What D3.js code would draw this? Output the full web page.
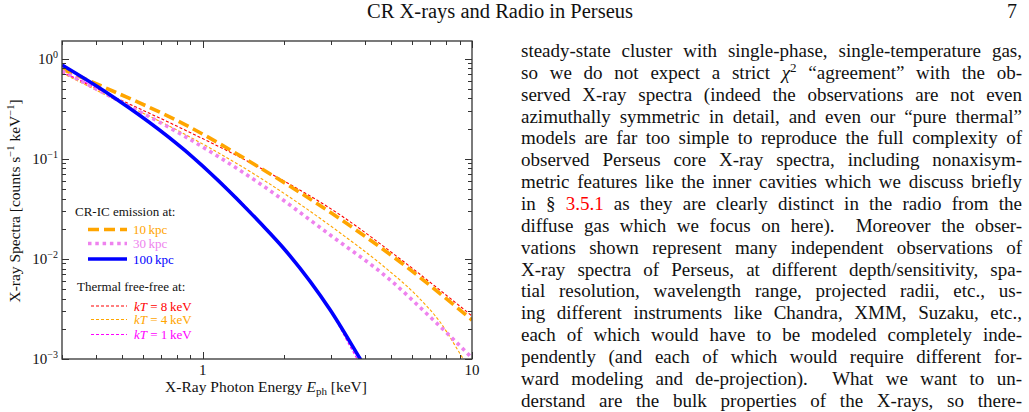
<!DOCTYPE html>
<html>
<head>
<meta charset="utf-8">
<script src="https://cdnjs.cloudflare.com/ajax/libs/d3/7.8.5/d3.min.js"></script>
<style>
  body { margin: 0; background: #fff; }
  svg { display: block; }
  text { font-family: "Liberation Serif", "DejaVu Serif", serif; fill: #111; }
</style>
</head>
<body>
<svg id="page" width="1029" height="412"></svg>
<script>
// photon energy [keV] and spectra [counts s^-1 keV^-1]
const ic10Energy = [0.3, 0.436, 0.863, 1.636, 3.24, 5.41, 10];
const ic10Flux = [0.789, 0.51, 0.218, 0.0809, 0.025, 0.0093, 0.00245];

const ic30Energy = [0.3, 0.436, 0.827, 1.636, 2.975, 4.97, 6.99, 9.67, 10];
const ic30Flux = [0.754, 0.444, 0.177, 0.056, 0.0173, 0.00615, 0.00263, 0.00112, 0.00102];

const ic100Energy = [0.3, 0.436, 0.863, 1.636, 1.992, 2.975, 3.845, 4.0];
const ic100Flux = [0.865, 0.465, 0.1197, 0.0228, 0.01285, 0.00308, 0.001, 0.00084];

const ff8Energy = [0.3, 0.436, 0.827, 1.636, 3.24, 5.41, 10];
const ff8Flux = [0.736, 0.454, 0.2032, 0.0809, 0.02745, 0.00998, 0.00269];

const ff4Energy = [0.3, 0.436, 0.827, 1.636, 3.24, 4.68, 6.25, 7.61, 9.18, 9.4];
const ff4Flux = [0.72, 0.434, 0.1852, 0.0643, 0.01814, 0.00849, 0.00426, 0.00234, 0.00105, 0.00095];

const ff1Energy = [0.3, 0.436, 0.863, 1.636, 1.992, 2.975, 3.747, 3.9];
const ff1Flux = [0.73, 0.456, 0.1215, 0.0235, 0.0131, 0.00305, 0.001, 0.00084];

const xTickLabels = ['1', '10'];
const yTickExps = ['0', '\u22121', '\u22122', '\u22123'];

const headerTitle = 'CR X-rays and Radio in Perseus';
const pageNumber = '7';

// one entry per typeset line; ^x = superscript, *x* = italic, [x] = link colour
const bodyLines = [
  'steady-state cluster with single-phase, single-temperature gas,',
  'so we do not expect a strict *\u03c7*^2 \u201cagreement\u201d with the ob-',
  'served X-ray spectra (indeed the observations are not even',
  'azimuthally symmetric in detail, and even our \u201cpure thermal\u201d',
  'models are far too simple to reproduce the full complexity of',
  'observed Perseus core X-ray spectra, including nonaxisym-',
  'metric features like the inner cavities which we discuss briefly',
  'in \u00a7 [3.5.1] as they are clearly distinct in the radio from the',
  'diffuse gas which we focus on here).  Moreover the obser-',
  'vations shown represent many independent observations of',
  'X-ray spectra of Perseus, at different depth/sensitivity, spa-',
  'tial resolution, wavelength range, projected radii, etc., us-',
  'ing different instruments like Chandra, XMM, Suzaku, etc.,',
  'each of which would have to be modeled completely inde-',
  'pendently (and each of which would require different for-',
  'ward modeling and de-projection).  What we want to un-',
  'derstand are the bulk properties of the X-rays, so there-',
  'fore it is much more helpful and tractable to compare the'
];

const svg = d3.select('#page');

// ---- running head
svg.append('text')
  .attr('x', 633).attr('y', 18)
  .attr('text-anchor', 'end')
  .style('font-size', '20.5px')
  .text(headerTitle);
svg.append('text')
  .attr('x', 1012).attr('y', 18)
  .attr('text-anchor', 'middle')
  .style('font-size', '20px')
  .text(pageNumber);

// ---- chart
const plotLeft = 62, plotRight = 472, plotTop = 41, plotBottom = 359;

const x = d3.scaleLog().domain([0.3, 10]).range([plotLeft, plotRight]);
const y = d3.scaleLog().domain([1e-3, 1.5]).range([plotBottom, plotTop]);

const series = [
  { e: ff8Energy, f: ff8Flux, color: '#ff0000', width: 1.1, dash: '3,2' },
  { e: ff4Energy, f: ff4Flux, color: '#ffa500', width: 1.1, dash: '3,2' },
  { e: ff1Energy, f: ff1Flux, color: '#ff00ff', width: 1.1, dash: '3,2' },
  { e: ic10Energy, f: ic10Flux, color: '#ffa500', width: 3.6, dash: '11,5' },
  { e: ic30Energy, f: ic30Flux, color: '#ee82ee', width: 3.6, dash: '3.5,3.8' },
  { e: ic100Energy, f: ic100Flux, color: '#0000ff', width: 3.6, dash: null }
];

svg.append('clipPath').attr('id', 'plotClip')
  .append('rect')
  .attr('x', plotLeft).attr('y', plotTop)
  .attr('width', plotRight - plotLeft).attr('height', plotBottom - plotTop);

const line = d3.line()
  .x(d => x(d[0]))
  .y(d => y(d[1]))
  .curve(d3.curveMonotoneX);

const plot = svg.append('g').attr('clip-path', 'url(#plotClip)');
series.forEach(s => {
  plot.append('path')
    .datum(s.e.map((v, i) => [v, s.f[i]]))
    .attr('d', line)
    .attr('fill', 'none')
    .attr('stroke', s.color)
    .attr('stroke-width', s.width)
    .attr('stroke-dasharray', s.dash);
});

// ticks, all pointing inwards on the four sides
const xMajor = [1, 10];
const xMinor = [0.3, 0.4, 0.5, 0.6, 0.7, 0.8, 0.9, 2, 3, 4, 5, 6, 7, 8, 9];
const yMajor = [1e-3, 1e-2, 1e-1, 1];
const yMinor = [];
[1e-3, 1e-2, 1e-1].forEach(d => { for (let k = 2; k <= 9; k++) yMinor.push(d * k); });

const ticks = svg.append('g').attr('stroke', '#333').attr('stroke-width', 1);
const tick = (x1, y1, x2, y2) => ticks.append('line')
  .attr('x1', x1).attr('y1', y1).attr('x2', x2).attr('y2', y2);

xMajor.concat(xMinor).forEach(v => {
  const len = xMajor.includes(v) ? 7 : 4;
  const px = Math.round(x(v)) + 0.5;
  tick(px, plotBottom, px, plotBottom - len);
  tick(px, plotTop, px, plotTop + len);
});
yMajor.concat(yMinor).forEach(v => {
  const len = yMajor.includes(v) ? 7 : 4;
  const py = Math.round(y(v)) + 0.5;
  tick(plotLeft, py, plotLeft + len, py);
  tick(plotRight, py, plotRight - len, py);
});

svg.append('rect')
  .attr('x', plotLeft).attr('y', plotTop)
  .attr('width', plotRight - plotLeft).attr('height', plotBottom - plotTop)
  .attr('fill', 'none').attr('stroke', '#333').attr('stroke-width', 1.3);

// tick labels
svg.selectAll('.xtl').data(xMajor).enter().append('text')
  .attr('class', 'xtl')
  .attr('x', d => x(d)).attr('y', 375)
  .attr('text-anchor', 'middle')
  .style('font-size', '15px')
  .text((d, i) => xTickLabels[i]);

yMajor.slice().reverse().forEach((v, i) => {
  const t = svg.append('text')
    .attr('x', 58).attr('y', y(v) + 5)
    .attr('text-anchor', 'end')
    .style('font-size', '15px');
  t.append('tspan').text('10');
  t.append('tspan').attr('dy', -6).style('font-size', '10px').text(yTickExps[i]);
});

// axis titles
const xt = svg.append('text')
  .attr('x', 266).attr('y', 392)
  .attr('text-anchor', 'middle')
  .style('font-size', '15.5px');
xt.append('tspan').text('X-Ray Photon Energy ');
xt.append('tspan').style('font-style', 'italic').text('E');
xt.append('tspan').attr('dy', 3).style('font-size', '11px').text('ph');
xt.append('tspan').attr('dy', -3).text(' [keV]');

const yt = svg.append('text')
  .attr('transform', 'translate(20,201) rotate(-90)')
  .attr('text-anchor', 'middle')
  .style('font-size', '15.5px');
yt.append('tspan').text('X-ray Spectra [counts s');
yt.append('tspan').attr('dy', -6).style('font-size', '10.5px').text('\u22121');
yt.append('tspan').attr('dy', 6).text(' keV');
yt.append('tspan').attr('dy', -6).style('font-size', '10.5px').text('\u22121');
yt.append('tspan').attr('dy', 6).text(']');

// legend
const legend = svg.append('g');
legend.append('text').attr('x', 75).attr('y', 216).style('font-size', '13px').text('CR-IC emission at:');
legend.append('text').attr('x', 77).attr('y', 291).style('font-size', '13px').text('Thermal free-free at:');

const icLegend = [
  { s: series[3], label: '10\u2009kpc', y: 229.5 },
  { s: series[4], label: '30\u2009kpc', y: 243.5 },
  { s: series[5], label: '100\u2009kpc', y: 259 }
];
icLegend.forEach(d => {
  legend.append('line')
    .attr('x1', 88).attr('x2', 127).attr('y1', d.y).attr('y2', d.y)
    .attr('stroke', d.s.color).attr('stroke-width', d.s.width)
    .attr('stroke-dasharray', d.s.dash);
  legend.append('text').attr('x', 133).attr('y', d.y + 4.5)
    .style('font-size', '13px').style('fill', d.s.color).text(d.label);
});

const ffLegend = [
  { s: series[0], kT: '8', y: 306 },
  { s: series[1], kT: '4', y: 319.5 },
  { s: series[2], kT: '1', y: 334.5 }
];
ffLegend.forEach(d => {
  legend.append('line')
    .attr('x1', 91).attr('x2', 127).attr('y1', d.y).attr('y2', d.y)
    .attr('stroke', d.s.color).attr('stroke-width', d.s.width)
    .attr('stroke-dasharray', d.s.dash);
  const t = legend.append('text').attr('x', 134).attr('y', d.y + 4.5)
    .style('font-size', '13px').style('fill', d.s.color);
  t.append('tspan').style('font-style', 'italic').text('kT');
  t.append('tspan').text(' = ' + d.kT + '\u2009keV');
});

// ---- body text column, justified line by line
const colLeft = 521, colWidth = 501, lineStep = 21.85, firstBase = 57;

bodyLines.forEach((raw, i) => {
  const t = svg.append('text')
    .attr('x', colLeft).attr('y', firstBase + i * lineStep)
    .style('font-size', '19px')
    .attr('xml:space', 'preserve');
  const parts = raw.split(/(\*[^*]+\*|\^\d|\[[^\]]+\])/).filter(p => p.length);
  let lift = 0;
  parts.forEach(p => {
    let span;
    if (p[0] === '*') {
      span = t.append('tspan').style('font-style', 'italic').text(p.slice(1, -1));
    } else if (p[0] === '^') {
      t.append('tspan').attr('dy', -7).style('font-size', '13px').text(p.slice(1));
      lift = 7;
      return;
    } else if (p[0] === '[') {
      span = t.append('tspan').style('fill', '#ff0000').text(p.slice(1, -1));
    } else {
      span = t.append('tspan').text(p);
    }
    if (lift) { span.attr('dy', lift); lift = 0; }
  });
  const natural = t.node().getComputedTextLength();
  const spaces = (raw.match(/ /g) || []).length;
  if (spaces > 0) {
    t.style('word-spacing', ((colWidth - natural) / spaces) + 'px');
    const now = t.node().getComputedTextLength();
    if (Math.abs(now - colWidth) > 2) {
      t.style('word-spacing', null)
        .attr('textLength', colWidth)
        .attr('lengthAdjust', 'spacing');
    }
  }
});
</script>
</body>
</html>
